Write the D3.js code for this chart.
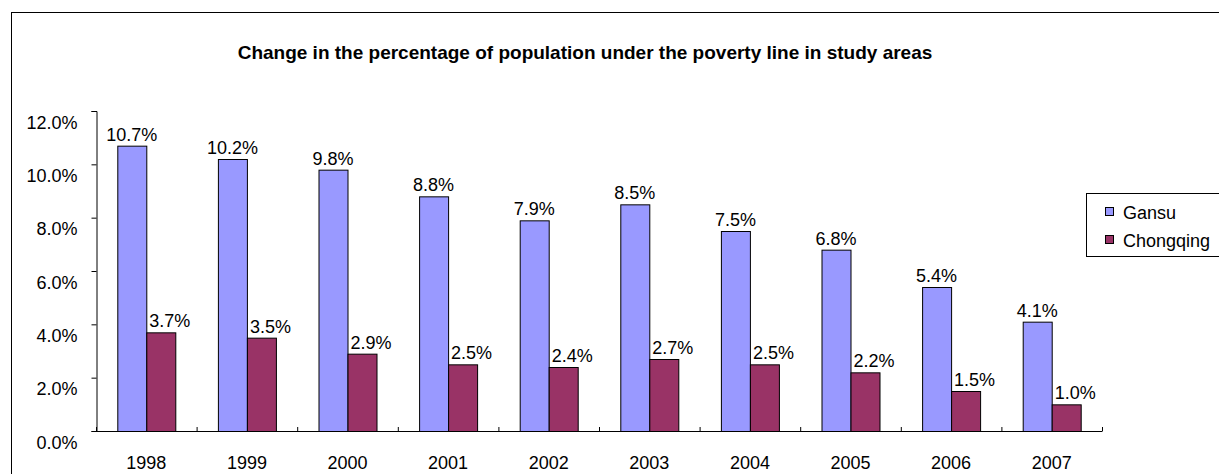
<!DOCTYPE html>
<html>
<head>
<meta charset="utf-8">
<script src="https://cdn.jsdelivr.net/npm/d3@7"></script>
<style>
  body { margin: 0; background: #fff; }
  text { font-family: "Liberation Sans", Arial, sans-serif; fill: #000; }
</style>
</head>
<body>
<svg id="chart" width="1219" height="474"></svg>
<script>
// data
const years = ['1998', '1999', '2000', '2001', '2002', '2003', '2004', '2005', '2006', '2007']
const gansu = [10.7, 10.2, 9.8, 8.8, 7.9, 8.5, 7.5, 6.8, 5.4, 4.1]
const chongqing = [3.7, 3.5, 2.9, 2.5, 2.4, 2.7, 2.5, 2.2, 1.5, 1.0]
const seriesNames = ['Gansu', 'Chongqing']
const seriesColors = ['#9999ff', '#993366']
const yTicks = [0, 2, 4, 6, 8, 10, 12]

const fs = 18

const svg = d3.select('#chart')

// outer chart frame (runs off right/bottom edge like the reference)
svg.append('rect')
    .attr('x', 11.5).attr('y', 12.5)
    .attr('width', 1230).attr('height', 480)
    .attr('fill', 'none').attr('stroke', '#000').attr('stroke-width', 1)

svg.append('text')
    .attr('x', 585).attr('y', 59)
    .attr('text-anchor', 'middle')
    .attr('font-size', 19).attr('font-weight', 'bold')
    .text('Change in the percentage of population under the poverty line in study areas')

const plotL = 96, plotR = 1102, plotT = 111, plotB = 431

const x = d3.scaleBand().domain(years).range([plotL, plotR])
const y = d3.scaleLinear().domain([0, 12]).range([plotB, plotT])
const barW = 29
// excel nudges the second series' labels to the right
const labelShift = [0, 9]

// y axis
const yAxis = svg.append('g').attr('transform', `translate(${plotL + 0.5},0)`)
    .call(d3.axisLeft(y).tickValues(yTicks).tickSize(5).tickFormat(d => d3.format('.1f')(d) + '%'))
yAxis.select('.domain').attr('stroke', '#000')
yAxis.selectAll('.tick line').attr('stroke', '#000')
yAxis.selectAll('.tick text')
    .attr('font-size', fs).attr('x', -19).attr('dy', '0.95em')
    .style('font-family', '"Liberation Sans", Arial, sans-serif')

// bars
const rows = years.map((yr, i) => ({ year: yr, vals: [gansu[i], chongqing[i]] }))
const groups = svg.selectAll('g.grp').data(rows).join('g').attr('class', 'grp')

groups.selectAll('rect')
    .data(d => d.vals.map((v, k) => ({ year: d.year, v, k })))
    .join('rect')
    .attr('x', d => x(d.year) + x.bandwidth() / 2 - barW + d.k * barW + 0.5)
    .attr('y', d => y(d.v) + 0.5)
    .attr('width', barW)
    .attr('height', d => y(0) - y(d.v))
    .attr('fill', d => seriesColors[d.k])
    .attr('stroke', '#000').attr('stroke-width', 1)

groups.selectAll('text.val')
    .data(d => d.vals.map((v, k) => ({ year: d.year, v, k })))
    .join('text')
    .attr('class', 'val')
    .attr('x', d => x(d.year) + x.bandwidth() / 2 - barW + d.k * barW + barW / 2 + labelShift[d.k])
    .attr('y', d => y(d.v) - 5)
    .attr('text-anchor', 'middle')
    .attr('font-size', fs)
    .text(d => d3.format('.1f')(d.v) + '%')

// x axis
svg.append('line')
    .attr('x1', plotL).attr('x2', plotR)
    .attr('y1', plotB + 0.5).attr('y2', plotB + 0.5)
    .attr('stroke', '#000')
svg.selectAll('line.xtick')
    .data(years.concat(['end']))
    .join('line')
    .attr('class', 'xtick')
    .attr('x1', (d, i) => plotL + i * x.step() + 0.5)
    .attr('x2', (d, i) => plotL + i * x.step() + 0.5)
    .attr('y1', plotB - 4).attr('y2', plotB + 0.5)
    .attr('stroke', '#000')
svg.selectAll('text.xlab')
    .data(years)
    .join('text')
    .attr('class', 'xlab')
    .attr('x', d => x(d) + x.bandwidth() / 2)
    .attr('y', 469)
    .attr('text-anchor', 'middle')
    .attr('font-size', fs)
    .text(d => d)

// legend
const lg = svg.append('g')
lg.append('rect')
    .attr('x', 1086.5).attr('y', 193.5)
    .attr('width', 140).attr('height', 63)
    .attr('fill', '#fff').attr('stroke', '#000')
seriesNames.forEach((name, i) => {
    lg.append('rect')
        .attr('x', 1105.5).attr('y', 207.5 + i * 28)
        .attr('width', 8).attr('height', 8)
        .attr('fill', seriesColors[i]).attr('stroke', '#000')
    lg.append('text')
        .attr('x', 1123).attr('y', 219 + i * 28)
        .attr('font-size', fs)
        .text(name)
})
</script>
</body>
</html>
